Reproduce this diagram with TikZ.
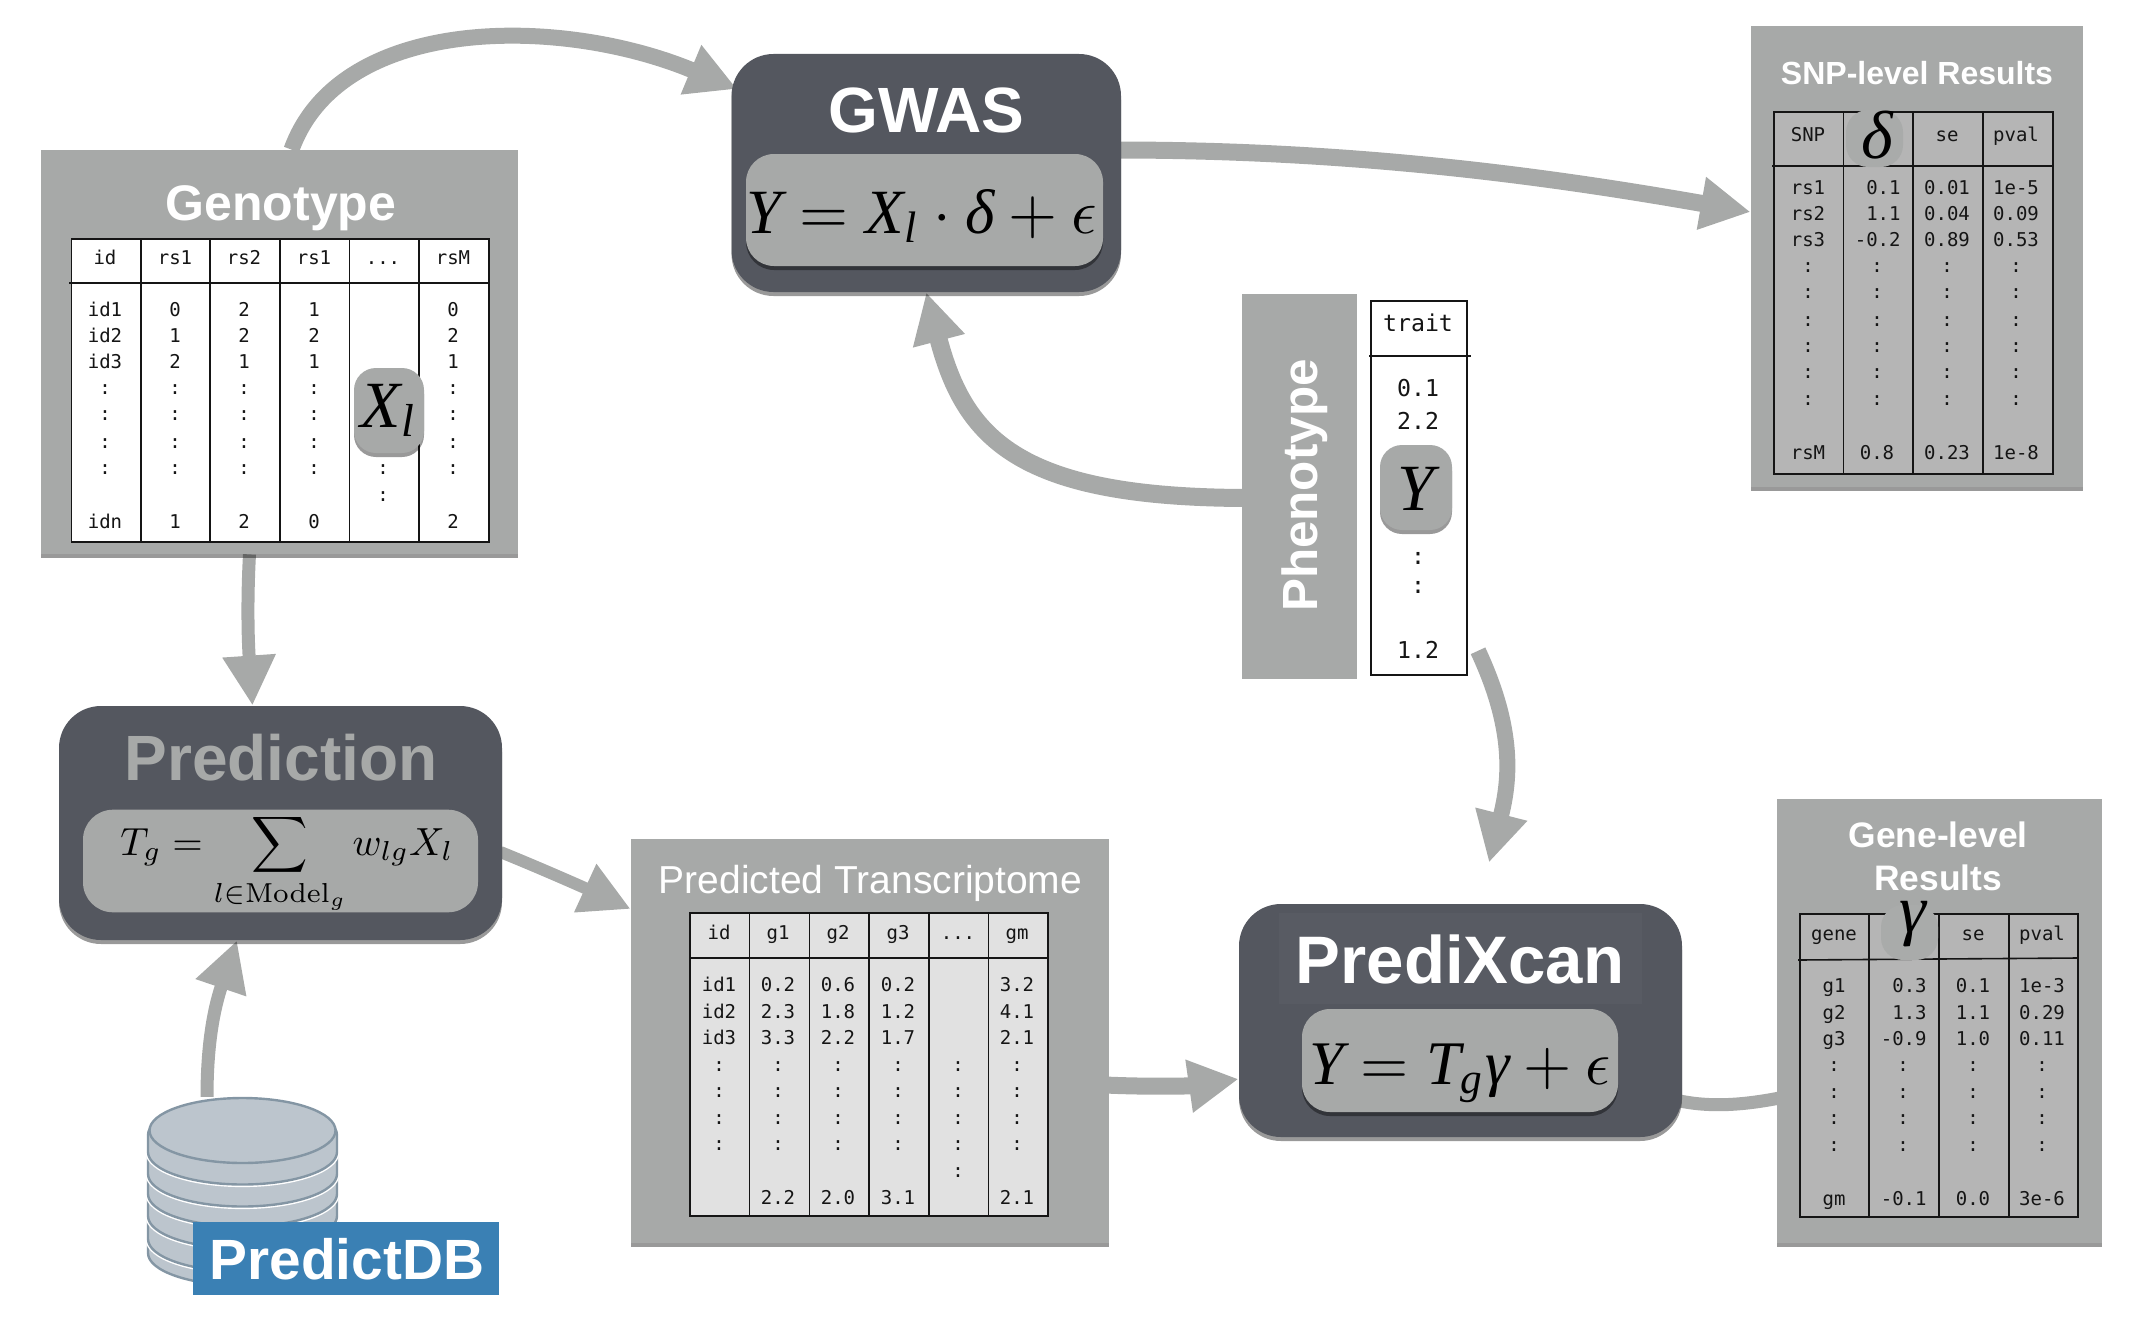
\documentclass[tikz,border=0pt]{standalone}
\usepackage{amsmath}
\usepackage{graphicx}
\usepackage[no-math]{fontspec}
\setmainfont{Liberation Sans}
\setmonofont{DejaVu Sans Mono}
\newfontfamily\eqfont{Liberation Serif}
\usetikzlibrary{arrows.meta,backgrounds,shadows,shapes.geometric}
\newcommand{\eqv}[1]{\text{\eqfont\itshape #1}}
\begin{document}
\begin{tikzpicture}[x=0.5pt,y=-0.5pt,
  myshadow/.style={drop shadow={shadow xshift=0pt,shadow yshift=-2pt,opacity=.4,fill=black}},
  mypanel/.style={rectangle,inner sep=0,fill=panelgrey,myshadow},
  mytable/.style={rectangle,inner sep=0,draw=inkblack,line width=.8pt},
  myline/.style={draw=inkblack,line width=.8pt},
  mycell/.style={inner sep=0,font=\ttfamily\fontsize{9.5}{11}\selectfont,text=inkblack,text height=7pt,text depth=0pt},
  mydots/.style={mycell,text height=5.2pt},
  bigcell/.style={mycell,font=\ttfamily\fontsize{11.6}{13}\selectfont,text height=8.5pt},
  bigdots/.style={bigcell,text height=6.3pt},
  mytitle/.style={anchor=base,inner sep=0,text=white,font=\fontsize{#1}{21.3}\selectfont\bfseries},
  mybox/.style={rectangle,inner sep=0,rounded corners=21pt,fill=boxdark,myshadow},
  myeq/.style={rectangle,inner sep=0,rounded corners=14pt,fill=panelgrey,myshadow},
  mybadge/.style={rectangle,inner sep=0,rounded corners=11pt,fill=panelgrey},
  myformula/.style={anchor=base,inner sep=0},
  myflow/.style={draw=panelgrey,line width=#1,-{Triangle[length=25pt,width=25pt]}}]
\definecolor{panelgrey}{HTML}{A7A9A8}
\definecolor{boxdark}{HTML}{54575F}
\definecolor{boxsoft}{HTML}{585B63}
\definecolor{inkblack}{HTML}{151515}
\definecolor{tablelight}{HTML}{E1E1E1}
\definecolor{tablemid}{HTML}{B5B5B5}
\definecolor{dbfill}{HTML}{BCC5CD}
\definecolor{dbline}{HTML}{8496A4}
\definecolor{dbblue}{HTML}{3A80B4}
\useasboundingbox (0,0) rectangle (2156,1322);
% genotype
\node [mypanel,minimum width=238.5pt,minimum height=202pt] (genotype) at (279.5,352) {};
\node [mytitle=25] (genotitle) at (281,220) {Genotype};
\node [mytable,fill=white,minimum width=208.75pt,minimum height=151.5pt] (genotab) at (280.25,390.5) {};
\draw [myline] (69,283) -- (489,283);
\foreach \xcol in {141,210,280,349.5,419}
  {\draw [myline] (\xcol,239) -- (\xcol,542);}
\foreach \i/\xcol/\hd/\va/\vb/\vc/\vz in {a/105/id/id1/id2/id3/idn,b/175/rs1/0/1/2/1,c/244/rs2/2/2/1/2,d/314/rs1/1/2/1/0,e/453/rsM/0/2/1/2}
  {\node [mycell] (geno-\i) at (\xcol,257) {\hd};
  \foreach \yrow/\txt in {309/\va,335/\vb,361/\vc,521/\vz}
    {\node [mycell] (geno-\i-\yrow) at (\xcol,\yrow) {\txt};}
  \foreach \yrow in {389,415,443,469}
    {\node [mydots] (geno-\i-\yrow) at (\xcol,\yrow) {:};}}
\node [mycell] (geno-more) at (383,257) {...};
\foreach \yrow in {469,496}
  {\node [mydots] (geno-more-\yrow) at (383,\yrow) {:};}
\node [mybadge,myshadow,minimum width=35pt,minimum height=42.5pt] (xbadge) at (389,410.5) {};
\node [myformula] (xterm) at (389,427) {\scalebox{3.3}{$\eqv{X}_{\eqv{l}}$}};
% gwas
\node [mybox,minimum width=194.75pt,minimum height=119pt] (gwas) at (926.25,173) {};
\node [mytitle=32] (gwastitle) at (926.5,133) {GWAS};
\node [myeq,minimum width=178.5pt,minimum height=56pt] (gwaseq) at (924.5,210) {};
\node [myformula] (gwasterm) at (922,233) {\scalebox{3.15}{$\eqv{Y}=\eqv{X}_{\eqv{l}}\cdot\eqv{δ}+\epsilon$}};
% snp results
\node [mypanel,minimum width=166pt,minimum height=230.5pt] (snp) at (1917,256.5) {};
\node [mytitle=16] (snptitle) at (1917,84) {SNP-level Results};
\node [mytable,fill=tablemid,minimum width=139.5pt,minimum height=181pt] (snptab) at (1913.5,293) {};
\draw [myline] (1772,166) -- (2053,166);
\foreach \xcol in {1843.5,1913,1983}
  {\draw [myline] (\xcol,112) -- (\xcol,474);}
\foreach \i/\xcol/\hd/\va/\vb/\vc/\vz in {a/1808/SNP/rs1/rs2/rs3/rsM,c/1947/se/0.01/0.04/0.89/0.23,d/2016/pval/1e-5/0.09/0.53/1e-8}
  {\node [mycell] (snp-\i) at (\xcol,134) {\hd};
  \foreach \yrow/\txt in {187/\va,213/\vb,239/\vc,452/\vz}
    {\node [mycell] (snp-\i-\yrow) at (\xcol,\yrow) {\txt};}}
\foreach \yrow/\txt in {187/0.1,213/1.1,239/-0.2}
  {\node [mycell,anchor=east] (snp-b-\yrow) at (1901,\yrow) {\txt};}
\node [mycell] (snp-b-452) at (1877,452) {0.8};
\foreach \i/\xcol in {a/1808,b/1877,c/1947,d/2016}
  {\foreach \yrow in {267,293,321,347,373,400}
    {\node [mydots] (snp-\i-\yrow) at (\xcol,\yrow) {:};}}
\node [mybadge,fill=panelgrey!85!tablemid,minimum width=28.5pt,minimum height=28.5pt] (dbadge) at (1874.5,138.5) {};
\node [myformula] (dterm) at (1877,158) {\scalebox{3.4}{$\eqv{δ}$}};
% phenotype
\node [rectangle,inner sep=0,fill=panelgrey,minimum width=57.5pt,minimum height=192.5pt] (phenotype) at (1299.5,486.5) {};
\node [mytitle=24.7,rotate=90] (phenotitle) at (1317,485.6) {Phenotype};
\node [mytable,fill=white,minimum width=48pt,minimum height=187pt] (trait) at (1419,488) {};
\draw [myline] (1369,356) -- (1471,356);
\foreach \yrow/\txt in {323/trait,388/0.1,421/2.2,650/1.2}
  {\node [bigcell] (trait-\yrow) at (1418,\yrow) {\txt};}
\foreach \yrow in {558,587}
  {\node [bigdots] (trait-\yrow) at (1418,\yrow) {:};}
\node [mybadge,myshadow,minimum width=36pt,minimum height=42.5pt] (ybadge) at (1416,487.5) {};
\node [myformula] (yterm) at (1416,510) {\scalebox{3.3}{$\eqv{Y}$}};
% prediction
\node [mybox,minimum width=221.5pt,minimum height=117pt] (prediction) at (280.5,823) {};
\node [mytitle=32,text=panelgrey] (predtitle) at (281,780) {Prediction};
\node [mybadge,rounded corners=15pt,minimum width=197.5pt,minimum height=51.3pt] (predeq) at (280.5,861) {};
\node [myformula] (predterm) at (287,855) {\scalebox{1.96}{$\displaystyle T_g=\sum_{l\in\mathrm{Model}_g}w_{lg}X_l$}};
% predictdb
\foreach \cy in {1236,1222,1199,1177,1157,1135}
  {\filldraw [fill=dbfill,draw=dbline,line width=1.2pt,preaction={draw=white,line width=2.6pt}]
    (148,\cy) -- (148,{\cy+17}) arc[start angle=180,end angle=360,x radius=47.25pt,y radius=16.25pt]
    -- (337,\cy) arc[start angle=0,end angle=180,x radius=47.25pt,y radius=16.25pt] -- cycle;}
\node [ellipse,inner sep=0,fill=dbfill,draw=dbline,line width=1.2pt,minimum width=93pt,minimum height=32.5pt] (dbtop) at (242.5,1130.5) {};
\node [rectangle,inner sep=0,fill=dbblue,minimum width=153pt,minimum height=36.5pt] (predictdb) at (346,1258.5) {};
\node [mytitle=28.4] (dbtitle) at (347,1279) {PredictDB};
% predicted transcriptome
\node [mypanel,minimum width=239pt,minimum height=202pt] (transcriptome) at (870,1041) {};
\node [mytitle=19.5,font=\fontsize{19.5}{23}\selectfont] (transtitle) at (870.5,893) {Predicted Transcriptome};
\node [mytable,fill=tablelight,minimum width=179pt,minimum height=151.5pt] (transtab) at (869,1064.5) {};
\draw [myline] (690,958) -- (1049,958);
\foreach \xcol in {749.5,809.5,869,929,988.5}
  {\draw [myline] (\xcol,913) -- (\xcol,1216);}
\foreach \i/\xcol/\hd/\va/\vb/\vc/\vz in {a/719/id/id1/id2/id3/,b/778/g1/0.2/2.3/3.3/2.2,c/838/g2/0.6/1.8/2.2/2.0,d/898/g3/0.2/1.2/1.7/3.1,e/1017/gm/3.2/4.1/2.1/2.1}
  {\node [mycell] (trans-\i) at (\xcol,932) {\hd};
  \foreach \yrow/\txt in {984/\va,1011/\vb,1037/\vc,1197/\vz}
    {\node [mycell] (trans-\i-\yrow) at (\xcol,\yrow) {\txt};}
  \foreach \yrow in {1066,1092,1119,1145}
    {\node [mydots] (trans-\i-\yrow) at (\xcol,\yrow) {:};}}
\node [mycell] (trans-more) at (958,932) {...};
\foreach \yrow in {1066,1092,1119,1145,1172}
  {\node [mydots] (trans-more-\yrow) at (958,\yrow) {:};}
% predixcan
\node [mybox,minimum width=221.5pt,minimum height=116.5pt] (predixcan) at (1460.5,1020.5) {};
\node [rectangle,inner sep=0,fill=boxsoft,minimum width=181.5pt,minimum height=45.5pt] (predixtag) at (1460.5,958.5) {};
\node [mytitle=33.6] (predixtitle) at (1460,983) {PrediXcan};
\node [myeq,minimum width=158pt,minimum height=51.5pt] (predixeq) at (1460,1060.5) {};
\node [myformula] (predixterm) at (1460,1084) {\scalebox{3.1}{$\eqv{Y}=\eqv{T}_{\eqv{g}}\eqv{γ}+\epsilon$}};
% gene results
\node [mypanel,minimum width=162.5pt,minimum height=222pt] (gene) at (1939.5,1021) {};
\node [mytitle=17.7,align=center] (genetitle) at (1938,890) {Gene-level\\Results};
\node [mytable,fill=tablemid,minimum width=139pt,minimum height=151.5pt] (genetab) at (1939,1065.5) {};
\draw [myline] (1798,960) -- (2078,958);
\foreach \xcol in {1869,1939,2009}
  {\draw [myline] (\xcol,914) -- (\xcol,1217);}
\foreach \i/\xcol/\hd/\va/\vb/\vc/\vz in {a/1834/gene/g1/g2/g3/gm,c/1973/se/0.1/1.1/1.0/0.0,d/2042/pval/1e-3/0.29/0.11/3e-6}
  {\node [mycell] (gene-\i) at (\xcol,933) {\hd};
  \foreach \yrow/\txt in {985/\va,1012/\vb,1038/\vc,1198/\vz}
    {\node [mycell] (gene-\i-\yrow) at (\xcol,\yrow) {\txt};}}
\foreach \yrow/\txt in {985/0.3,1012/1.3,1038/-0.9,1198/-0.1}
  {\node [mycell,anchor=east] (gene-b-\yrow) at (1927,\yrow) {\txt};}
\foreach \i/\xcol in {a/1834,b/1903,c/1973,d/2042}
  {\foreach \yrow in {1066,1093,1119,1146}
    {\node [mydots] (gene-\i-\yrow) at (\xcol,\yrow) {:};}}
\node [mybadge,fill=panelgrey!85!tablemid,minimum width=28.5pt,minimum height=27.5pt] (gbadge) at (1909.5,932.5) {};
\node [myformula] (gterm) at (1913,932) {\scalebox{3.4}{$\eqv{γ}$}};
% connectors
\begin{scope}[on background layer]
  \draw [myflow=8pt] ([xshift=6pt]genotype.north) .. controls (340,15) and (560,15) .. ([shift={(3pt,42pt)}]gwas.west);
  \draw [myflow=6.5pt] ([xshift=-15pt]genotype.south) .. controls (247,600) and (248,640) .. ([xshift=-14pt]prediction.north);
  \draw [myflow=6.5pt] ([xshift=-17.75pt]dbtop.north) .. controls (207,1040) and (215,1005) .. ([xshift=-21.75pt]prediction.south);
  \draw [myflow=6pt] ([shift={(-1pt,-14.5pt)}]prediction.east) .. controls (540,868) and (585,888) .. ([yshift=66pt]transcriptome.west);
  \draw [myflow=8.5pt] ([shift={(-2pt,-22pt)}]transcriptome.east) .. controls (1150,1087) and (1190,1086) .. ([yshift=-29.25pt]predixcan.west);
  \draw [myflow=9pt] ([shift={(4pt,-5.75pt)}]phenotype.west) .. controls (1020,498) and (965,440) .. (gwas.south);
  \draw [myflow=8.5pt] ([shift={(-3pt,11.5pt)}]gwas.east) .. controls (1350,150) and (1540,175) .. ([yshift=22.25pt]snp.west);
  \draw [myflow=8pt] ([shift={(29.5pt,12.5pt)}]trait.south) .. controls (1515,730) and (1510,780) .. ([shift={(14.25pt,20.5pt)}]predixcan.north);
  \draw [draw=panelgrey,line width=6.5pt] ([shift={(-3.5pt,-39.75pt)}]predixcan.east) .. controls (1710,1108) and (1745,1105) .. ([shift={(4pt,-38pt)}]gene.west);
\end{scope}
\end{tikzpicture}
\end{document}
